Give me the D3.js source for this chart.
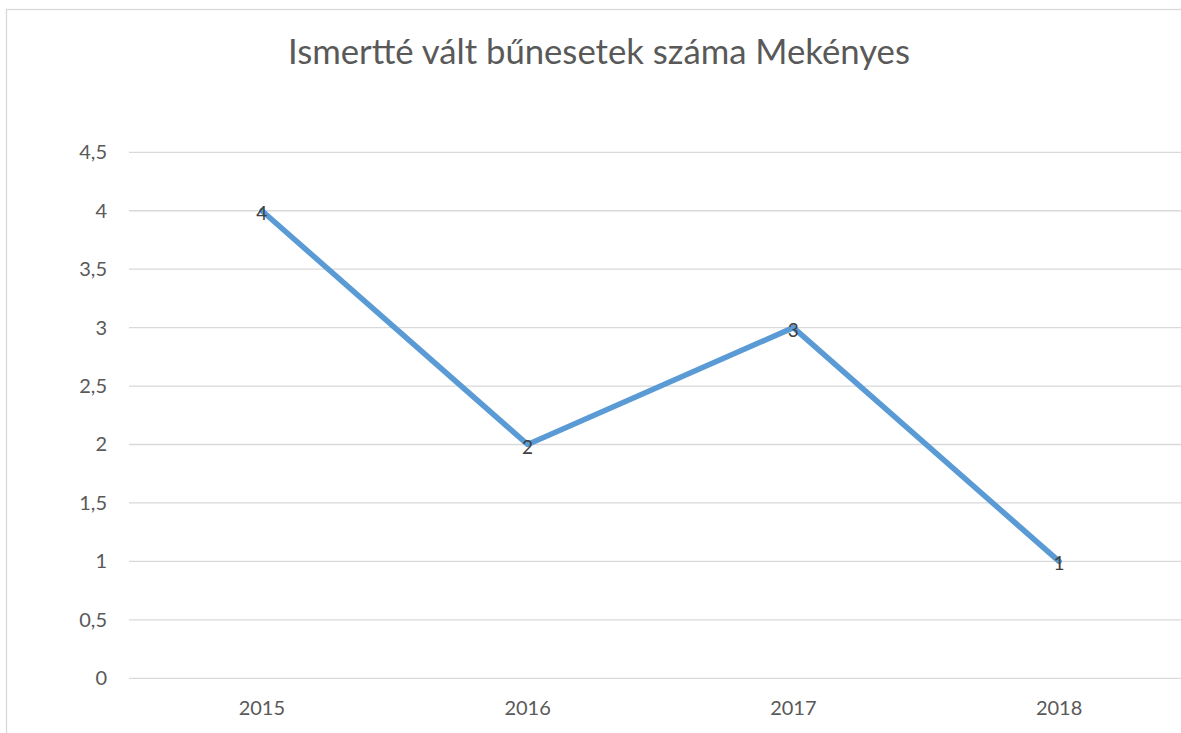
<!DOCTYPE html>
<html>
<head>
<meta charset="utf-8">
<script src="https://cdn.jsdelivr.net/npm/d3@7"></script>
<style>
  body { margin: 0; background: #fff; }
  text { font-family: Lato, "Open Sans", sans-serif; }
</style>
</head>
<body>
<svg id="chart" width="1181" height="733"></svg>
<script>
const title = "Ismertté vált bűnesetek száma Mekényes";
const years = ["2015", "2016", "2017", "2018"];
const cases = [4, 2, 3, 1];
const yTicks = [0, 0.5, 1, 1.5, 2, 2.5, 3, 3.5, 4, 4.5];

const width = 1181;
const height = 733;
const plot = { left: 129, right: 1192, top: 152.3, bottom: 678.3 };

const svg = d3.select("#chart");

// chart frame (cut off on right/bottom like the source)
svg
  .append("rect")
  .attr("x", 6.5)
  .attr("y", 9.5)
  .attr("width", 1186)
  .attr("height", 760)
  .attr("fill", "#fff")
  .attr("stroke", "#d9d9d9")
  .attr("stroke-width", 1.3);

const xScale = d3
  .scaleBand()
  .domain(years)
  .range([plot.left, plot.right])
  .padding(0);

const yScale = d3
  .scaleLinear()
  .domain([0, 4.5])
  .range([plot.bottom, plot.top]);

const fmt = (v) => String(v).replace(".", ",");

// gridlines
svg
  .append("g")
  .selectAll("line")
  .data(yTicks)
  .enter()
  .append("line")
  .attr("x1", plot.left)
  .attr("x2", plot.right)
  .attr("y1", (d) => yScale(d))
  .attr("y2", (d) => yScale(d))
  .attr("stroke", "#d9d9d9")
  .attr("stroke-width", 1.3);

// y axis labels
const yAxis = svg
  .append("g")
  .attr("transform", `translate(${plot.left - 6},0)`)
  .call(d3.axisLeft(yScale).tickValues(yTicks).tickFormat(fmt).tickSize(0).tickPadding(16));
yAxis.select(".domain").remove();
yAxis
  .selectAll("text")
  .attr("fill", "#595959")
  .style("font-size", "20px")
  .style("font-family", "Lato, sans-serif");

// x axis labels
const xAxis = svg
  .append("g")
  .attr("transform", `translate(0,${plot.bottom})`)
  .call(d3.axisBottom(xScale).tickSize(0).tickPadding(23));
xAxis.select(".domain").remove();
xAxis
  .selectAll("text")
  .attr("fill", "#595959")
  .style("font-size", "20px")
  .style("font-family", "Lato, sans-serif");

const cx = (d) => xScale(d) + xScale.bandwidth() / 2;

// line
const line = d3
  .line()
  .x((d, i) => cx(years[i]))
  .y((d) => yScale(d));

svg
  .append("path")
  .datum(cases)
  .attr("d", line)
  .attr("fill", "none")
  .attr("stroke", "#5b9bd5")
  .attr("stroke-width", 5.5)
  .attr("stroke-linejoin", "round")
  .attr("stroke-linecap", "round");

// data labels
svg
  .append("g")
  .selectAll("text")
  .data(cases)
  .enter()
  .append("text")
  .attr("x", (d, i) => cx(years[i]))
  .attr("y", (d) => yScale(d) + 9)
  .attr("text-anchor", "middle")
  .attr("fill", "#404040")
  .style("font-size", "19px")
  .text((d) => d);

// title
const titleText = svg
  .append("text")
  .attr("x", 599)
  .attr("y", 64)
  .attr("text-anchor", "middle")
  .attr("fill", "#595959")
  .style("font-size", "30px")
  .text(title);

const tw = titleText.node().getComputedTextLength();
titleText.style("font-size", `${(30 * 622) / tw}px`);
</script>
</body>
</html>
